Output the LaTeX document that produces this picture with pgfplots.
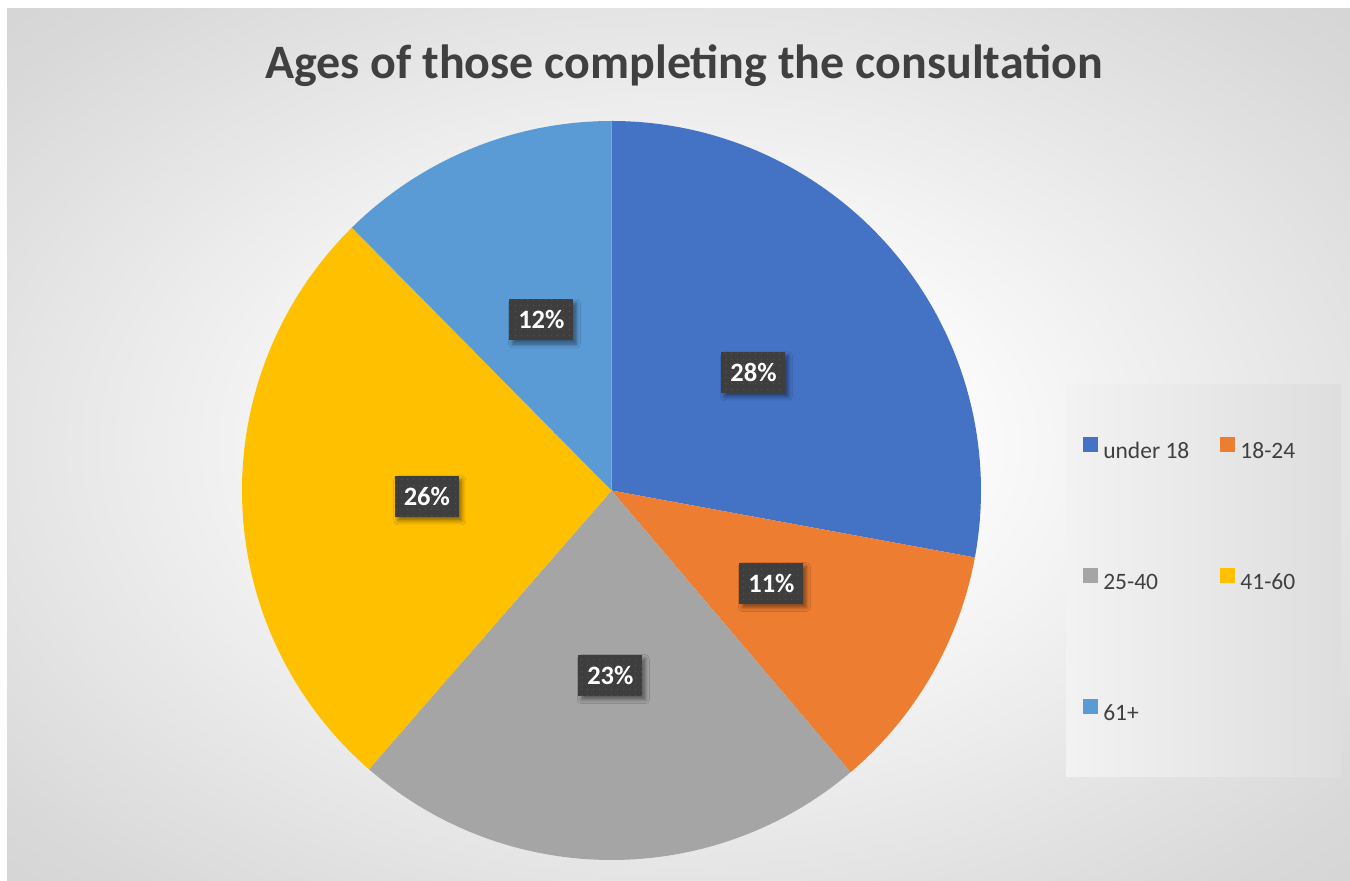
\documentclass[border=0pt]{standalone}
\usepackage{fontspec}
\setmainfont{Carlito}
\usepackage{pgfplots}
\pgfplotsset{compat=1.18}
\usepackage{pgfplotstable}
\usetikzlibrary{shadows.blur,patterns.meta}

\definecolor{slice0}{HTML}{4472C4}
\definecolor{slice1}{HTML}{ED7D31}
\definecolor{slice2}{HTML}{A5A5A5}
\definecolor{slice3}{HTML}{FFC000}
\definecolor{slice4}{HTML}{5B9BD5}
\definecolor{txt}{HTML}{404040}
\definecolor{boxgray}{HTML}{3E3E3E}
\definecolor{boxdot}{HTML}{565656}
\definecolor{bgedge}{HTML}{C6C6C6}
\definecolor{bgmid}{HTML}{D9D9D9}

\pgfdeclareradialshading{chartbg}{\pgfpoint{0bp}{0bp}}{%
  color(0bp)=(white); color(8bp)=(white); color(32bp)=(bgmid); color(50bp)=(bgedge)}

\pgfplotsset{legsquare/.style={legend image code/.code={\fill[#1] (0bp,0bp) rectangle (14bp,14bp);}}}

% share of each age group, in percent
\pgfplotstableread[col sep=comma]{
age,value,label
under 18,27.9,28
18-24,10.9,11
25-40,22.6,23
41-60,26.2,26
61+,12.4,12
}\agedata

% start, end and middle angle of each slice, clockwise from the top
\def\cum{0}
\pgfplotsforeachungrouped \i in {0,...,4}{%
  \pgfplotstablegetelem{\i}{value}\of\agedata
  \pgfmathsetmacro\sA{90-3.6*\cum}
  \pgfmathsetmacro\cumnew{\cum+\pgfplotsretval}
  \pgfmathsetmacro\eA{90-3.6*\cumnew}
  \pgfmathsetmacro\mA{(\sA+\eA)/2}
  \expandafter\xdef\csname sa\i\endcsname{\sA}
  \expandafter\xdef\csname ea\i\endcsname{\eA}
  \expandafter\xdef\csname ma\i\endcsname{\mA}
  \xdef\cum{\cumnew}
  \pgfplotstablegetelem{\i}{label}\of\agedata
  \expandafter\xdef\csname lb\i\endcsname{\pgfplotsretval}
  \pgfplotstablegetelem{\i}{age}\of\agedata
  \expandafter\xdef\csname lg\i\endcsname{\pgfplotsretval}
}

\begin{document}
\begin{tikzpicture}[
  labelbox/.style={fill=boxgray, text=white,
    font=\fontsize{26.5bp}{30bp}\selectfont\bfseries,
    minimum width=64bp, minimum height=41bp, inner sep=0pt,
    blur shadow={shadow xshift=3bp, shadow yshift=-4bp,
      shadow blur radius=4bp, shadow opacity=45},
    postaction={pattern={Dots[distance=6bp, radius=0.8bp]}, pattern color=boxdot}}]
\useasboundingbox (0,0) rectangle (1350bp,881bp);
\fill[white] (0,0) rectangle (1350bp,881bp);
\shade[shading=chartbg] (7bp,0bp) rectangle (1350bp,872bp);
\shade[left color=white!95!black, right color=white!87!black] (1066bp,104bp) rectangle (1341bp,496bp);

\node[anchor=base, text=txt, font=\fontsize{48bp}{56bp}\selectfont\bfseries]
  at (684bp,802bp) {Ages of those completing the consultation};

\begin{axis}[
  at={(611.5bp,390.5bp)}, anchor=center,
  scale only axis, width=739bp, height=739bp,
  xmin=-1, xmax=1, ymin=-1, ymax=1,
  hide axis, clip=false,
  legend columns=2,
  legend cell align=left,
  legsquare,
  legend style={draw=none, fill=none, inner sep=0pt,
    at={(1.138,0.5728)}, anchor=north west,
    font=\fontsize{23.5bp}{28bp}\selectfont, text=txt,
    nodes={inner sep=0pt},
    row sep=108bp,
    /tikz/every odd column/.append style={column sep=5.7bp},
    /tikz/every even column/.append style={column sep=31bp}},
]
\pgfplotsinvokeforeach{0,...,4}{
  \fill[slice#1] (axis cs:0,0)
    -- (axis cs:{cos(\csname sa#1\endcsname)},{sin(\csname sa#1\endcsname)})
    arc[start angle=\csname sa#1\endcsname, end angle=\csname ea#1\endcsname, radius=369.5bp]
    -- cycle;
  \addlegendimage{slice#1}
  \addlegendentry{\csname lg#1\endcsname}
}
\pgfplotsinvokeforeach{0,...,4}{
  \node[labelbox] at (axis cs:{0.5*cos(\csname ma#1\endcsname)},{0.5*sin(\csname ma#1\endcsname)})
    {\csname lb#1\endcsname\%};
}
\end{axis}
\end{tikzpicture}
\end{document}
